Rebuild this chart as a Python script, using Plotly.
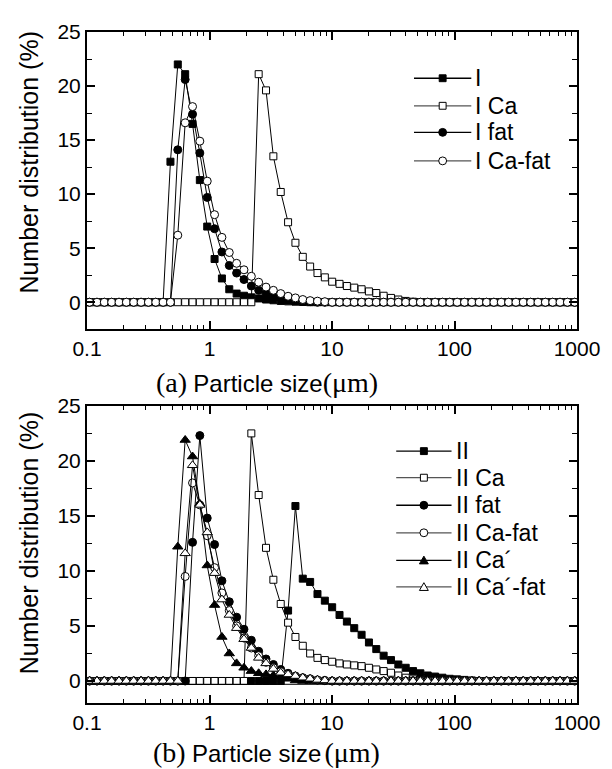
import plotly.graph_objects as go

# particle size classes (um)
size = [0.105, 0.1206, 0.1384, 0.1589, 0.1825, 0.2095, 0.2405, 0.2762, 0.3171, 0.3641,
        0.418, 0.480, 0.551, 0.633, 0.727, 0.834, 0.958, 1.100, 1.263, 1.450,
        1.665, 1.912, 2.195, 2.520, 2.894, 3.322, 3.815, 4.380, 5.029, 5.774,
        6.629, 7.611, 8.739, 10.03, 11.52, 13.23, 15.19, 17.44, 20.02, 22.99,
        26.39, 30.30, 34.79, 39.95, 45.87, 52.66, 60.46, 69.42, 79.71, 91.51,
        105.1, 120.6, 138.5, 159.0, 182.6, 209.6, 240.7, 276.3, 317.3, 364.3,
        418.3, 480.2, 551.4, 633.1, 726.9, 834.6, 958.2]

Z = 0
# panel (a)
I_plain = [Z]*11 + [13.0, 22.0, 21.1, 16.5, 11.3, 7.0, 4.0, 2.2, 1.2, 0.8, 0.6, 0.45, 0.35, 0.25,
                    0.18, 0.12, 0.08, 0.05, 0.02] + [Z]*37
I_Ca = [Z]*23 + [21.1, 19.6, 13.5, 10.2, 7.4, 5.5, 4.2, 3.3, 2.7, 2.3, 1.9, 1.7, 1.5, 1.35, 1.2,
                 1.0, 0.85, 0.6, 0.4, 0.25, 0.12, 0.05] + [Z]*22
I_fat = [Z]*12 + [14.1, 20.6, 17.4, 13.8, 9.7, 6.8, 4.65, 3.4, 2.7, 2.1, 1.5, 1.1, 0.8, 0.55,
                  0.4, 0.28, 0.18, 0.1, 0.05] + [Z]*36
I_Ca_fat = [Z]*12 + [6.2, 16.6, 18.1, 14.9, 11.2, 8.1, 6.0, 4.6, 3.6, 3.0, 2.4, 1.85, 1.4, 1.1,
                     0.8, 0.55, 0.4, 0.25, 0.15, 0.1, 0.05] + [Z]*34

# panel (b)
II_plain = [Z]*27 + [6.4, 15.9, 9.3, 9.0, 7.9, 7.3, 6.7, 6.0, 5.4, 4.8, 4.2, 3.5, 2.9, 2.3, 1.9,
                     1.5, 1.2, 0.9, 0.7, 0.5, 0.4, 0.3, 0.2, 0.15, 0.1, 0.05] + [Z]*14
II_Ca = [Z]*22 + [22.5, 16.9, 12.1, 9.2, 7.0, 5.3, 4.0, 3.2, 2.5, 2.1, 1.9, 1.75, 1.6, 1.5, 1.42,
                  1.35, 1.2, 1.05, 0.9, 0.75, 0.5, 0.3, 0.15, 0.05] + [Z]*21
II_fat = [Z]*14 + [12.6, 22.3, 14.8, 12.4, 9.1, 7.2, 5.8, 4.7, 3.7, 2.7, 2.0, 1.5, 1.05, 0.7,
                   0.45, 0.3, 0.2, 0.1, 0.05] + [Z]*34
II_Ca_fat = [Z]*13 + [9.5, 18.0, 16.0, 13.2, 10.3, 8.0, 6.4, 5.0, 3.9, 3.0, 2.3, 1.7, 1.2, 0.85,
                      0.6, 0.4, 0.25, 0.15, 0.08, 0.03] + [Z]*34
II_Cap = [Z]*12 + [12.2, 21.9, 20.4, 16.1, 10.5, 6.9, 4.0, 2.5, 1.6, 1.2, 0.9, 0.7, 0.6, 0.5,
                   0.4, 0.2, 0.05] + [Z]*38
II_Cap_fat = [Z]*13 + [11.6, 19.6, 16.0, 13.5, 9.8, 7.4, 6.0, 4.8, 3.8, 3.0, 2.1, 1.6, 1.1, 0.75,
                       0.6, 0.45, 0.3, 0.2, 0.1, 0.05] + [Z]*34

names_a = ["I", "I Ca", "I fat", "I Ca-fat"]
names_b = ["II", "II Ca", "II fat", "II Ca-fat", "II Ca\u00b4", "II Ca\u00b4-fat"]
x_tickvals = [0.1, 1, 10, 100, 1000]
x_ticktext = ["0.1", "1", "10", "100", "1000"]
x_minor = [m * d for d in [0.1, 1, 10, 100] for m in range(2, 10)]

# (symbol, fill, size)
styles = [("square", "black", 7), ("square", "white", 7), ("circle", "black", 8),
          ("circle", "white", 8), ("triangle-up", "black", 9), ("triangle-up", "white", 9)]

fig = go.Figure()

def add(series, name, st, xa, ya):
    sym, fill, sz = st
    fig.add_trace(go.Scatter(
        x=size, y=series, name=name, mode="lines+markers", xaxis=xa, yaxis=ya,
        line=dict(color="black", width=1),
        marker=dict(symbol=sym, color=fill, size=sz, line=dict(color="black", width=1)),
        cliponaxis=True, showlegend=False))

for s, n, st in zip([I_plain, I_Ca, I_fat, I_Ca_fat], names_a, styles):
    add(s, n, st, "x", "y")
for s, n, st in zip([II_plain, II_Ca, II_fat, II_Ca_fat, II_Cap, II_Cap_fat], names_b, styles):
    add(s, n, st, "x2", "y2")

tickfont = dict(family="Arial, Liberation Sans", size=21, color="black")
xcommon = dict(type="log", range=[-1, 3], tickmode="array", tickvals=x_tickvals, ticktext=x_ticktext,
               ticks="inside", ticklen=8, tickwidth=1.5, tickcolor="black", showline=True,
               linecolor="black", linewidth=2, mirror="allticks", showgrid=False, zeroline=False,
               tickfont=tickfont,
               minor=dict(tickmode="array", tickvals=x_minor, ticks="inside", ticklen=4,
                          tickwidth=1, tickcolor="black", showgrid=False))
ycommon = dict(tickmode="linear", tick0=0, dtick=5, ticks="inside", ticklen=8, tickwidth=1.5,
               tickcolor="black", showline=True, linecolor="black", linewidth=2, mirror="allticks",
               showgrid=False, zeroline=False, tickfont=tickfont,
               minor=dict(dtick=2.5, ticks="inside", ticklen=5, tickwidth=1, tickcolor="black",
                          showgrid=False))

# page has an 8px body margin; plot area spans x 87..583, y 21..703 of the page
fig.update_layout(
    width=604, height=761, margin=dict(l=79, r=29, t=13, b=66),
    paper_bgcolor="white", plot_bgcolor="white", showlegend=False,
    xaxis=dict(domain=[0, 1], anchor="y", **xcommon),
    yaxis=dict(domain=[0.557, 1.0], anchor="x", range=[-2.5, 25], **ycommon),
    xaxis2=dict(domain=[0, 1], anchor="y2", **xcommon),
    yaxis2=dict(domain=[0, 0.4428], anchor="x2", range=[-2, 25], **ycommon),
)

fig.add_shape(type="line", xref="x2 domain", yref="y2", x0=0, x1=1, y0=-0.3, y1=-0.3,
              line=dict(color="black", width=1))

# ---- legends drawn in paper space (pixel helpers relative to the plot area) ----
PW, PH = 496.0, 682.0
def px2x(px):
    return (px - 87) / PW
def py2y(py):
    return (703 - py) / PH

legfont = dict(family="Arial, Liberation Sans", size=23, color="black")

def legend_item(name, st, cx, cy, half=29, linecol="black"):
    sym, fill, sz = st
    fig.add_shape(type="line", xref="paper", yref="paper", x0=px2x(cx - half), x1=px2x(cx + half),
                  y0=py2y(cy), y1=py2y(cy), line=dict(color=linecol, width=1.3), layer="above")
    r = sz / 2.0
    mk = dict(xref="paper", yref="paper", fillcolor=fill, line=dict(color="black", width=1),
              layer="above")
    if sym == "square":
        fig.add_shape(type="rect", x0=px2x(cx - r), x1=px2x(cx + r), y0=py2y(cy + r),
                      y1=py2y(cy - r), **mk)
    elif sym == "circle":
        fig.add_shape(type="circle", x0=px2x(cx - r), x1=px2x(cx + r), y0=py2y(cy + r),
                      y1=py2y(cy - r), **mk)
    else:
        p = "M {:.5f} {:.5f} L {:.5f} {:.5f} L {:.5f} {:.5f} Z".format(
            px2x(cx - r), py2y(cy + r * 0.8), px2x(cx + r), py2y(cy + r * 0.8),
            px2x(cx), py2y(cy - r * 0.95))
        fig.add_shape(type="path", path=p, **mk)
    fig.add_annotation(text=name, xref="paper", yref="paper", x=px2x(cx + half + 2), y=py2y(cy),
                       xanchor="left", yanchor="middle", showarrow=False, font=legfont)

rows_a = [68, 96, 123, 152]
for n, st, ry in zip(names_a, styles, rows_a):
    col = "black" if st[1] == "black" else "#555555"
    legend_item(n, st, 447, ry, linecol=col)

rows_b = [447, 474, 502, 530, 558, 585]
for n, st, ry in zip(names_b, styles, rows_b):
    col = "black" if st[1] == "black" else "#555555"
    legend_item(n, st, 428, ry, half=28, linecol=col)

NB = "\u00a0"
def xtitle(letter, gap):
    return ('<span style="font-family:Times New Roman, Liberation Serif;font-size:28px">(' + letter +
            ')</span>' + NB + NB + '<span style="font-family:Arial, Liberation Sans;font-size:24px">'
            'Particle size</span>' + gap +
            '<span style="font-family:Times New Roman, Liberation Serif;font-size:28px">(\u03bcm)</span>')

fig.add_annotation(text=xtitle("a", ""), xref="paper", yref="paper", x=px2x(269), y=py2y(377),
                   xanchor="center", yanchor="middle", showarrow=False, font=dict(color="black"))
fig.add_annotation(text=xtitle("b", NB), xref="paper", yref="paper", x=px2x(269), y=py2y(753),
                   xanchor="center", yanchor="middle", showarrow=False, font=dict(color="black"))
ytfont = dict(family="Arial, Liberation Sans", size=25, color="black")
for cy in [153, 540]:
    fig.add_annotation(text="Number distribution (%)", xref="paper", yref="paper", x=px2x(28),
                       y=py2y(cy), xanchor="center", yanchor="middle", textangle=-90,
                       showarrow=False, font=ytfont)

fig.write_html("out.html")
